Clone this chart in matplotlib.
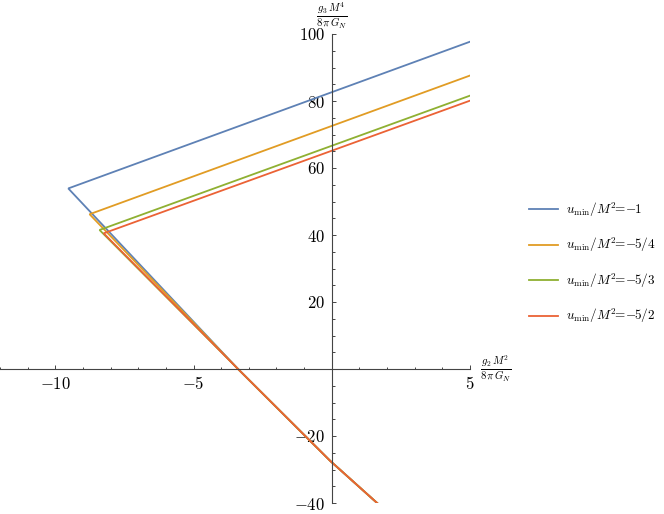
import matplotlib
matplotlib.use('Agg')
import matplotlib.pyplot as plt
import matplotlib.ticker as ticker

plt.rcParams['mathtext.fontset'] = 'cm'
plt.rcParams['font.family'] = ['DejaVu Serif']

# data
labels = [r'$u_{\mathrm{min}}/M^2\!\!=\!\!-\!\!1$',
          r'$u_{\mathrm{min}}/M^2\!\!=\!\!-\!\!5/4$',
          r'$u_{\mathrm{min}}/M^2\!\!=\!\!-\!\!5/3$',
          r'$u_{\mathrm{min}}/M^2\!\!=\!\!-\!\!5/2$']
colors = ['#5E81B5', '#E19C24', '#8FB032', '#EB6235']
x_end = 5
upper_end_y = [97.7, 87.6, 81.6, 80.1]
vertex_x = [-9.53, -8.76, -8.40, -8.25]
vertex_y = [53.9, 46.2, 41.5, 40.5]
lower_x = [-3.39, -0.06, 1.64]
lower_y = [0, -27.4, -40]

x_ticks = [-10, -5, 5]
y_ticks = [-40, -20, 20, 40, 60, 80, 100]

fig = plt.figure(figsize=(6.64, 5.14), dpi=100)
ax = fig.add_axes([0.0, 11/514, 470/664, 469/514])

for i in range(4):
    xs = [x_end, vertex_x[i]] + lower_x
    ys = [upper_end_y[i], vertex_y[i]] + lower_y
    ax.plot(xs, ys, color=colors[i], lw=1.3, label=labels[i], solid_joinstyle='miter')

ax.set_xlim(-12, 5)
ax.set_ylim(-40, 100)

# axes through origin, Mathematica style
ax.spines['left'].set_position(('data', 0))
ax.spines['bottom'].set_position(('data', 0))
ax.spines['right'].set_visible(False)
ax.spines['top'].set_visible(False)
for s in ['left', 'bottom']:
    ax.spines[s].set_color('#444444')
    ax.spines[s].set_linewidth(0.8)

ax.set_xticks(x_ticks)
ax.set_yticks(y_ticks)
ax.xaxis.set_minor_locator(ticker.MultipleLocator(1))
ax.yaxis.set_minor_locator(ticker.MultipleLocator(5))
fmt = ticker.FuncFormatter(lambda v, p: f'${v:g}$')
ax.xaxis.set_major_formatter(fmt)
ax.yaxis.set_major_formatter(fmt)
ax.tick_params(which='both', direction='in', color='#444444', width=0.7, labelsize=12)
ax.tick_params(which='major', length=3.2, pad=5)
ax.tick_params(which='minor', length=1.8)

ax.annotate(r'$\frac{g_2\,M^2}{8\,\pi\,G_N}$', xy=(1, 40/140), xycoords='axes fraction',
            xytext=(7, 0), textcoords='offset points', ha='left', va='center', fontsize=11)
ax.annotate(r'$\frac{g_3\,M^4}{8\,\pi\,G_N}$', xy=(12/17, 1), xycoords='axes fraction',
            xytext=(0, 13), textcoords='offset points', ha='center', va='center', fontsize=11)

leg = fig.legend(loc='center left', bbox_to_anchor=(520/664, 1 - 263/514), frameon=False,
                 fontsize=9.5, handlelength=2.2, handletextpad=0.6, labelspacing=1.3,
                 borderpad=0.2)

fig.savefig('out.png', dpi=100)
